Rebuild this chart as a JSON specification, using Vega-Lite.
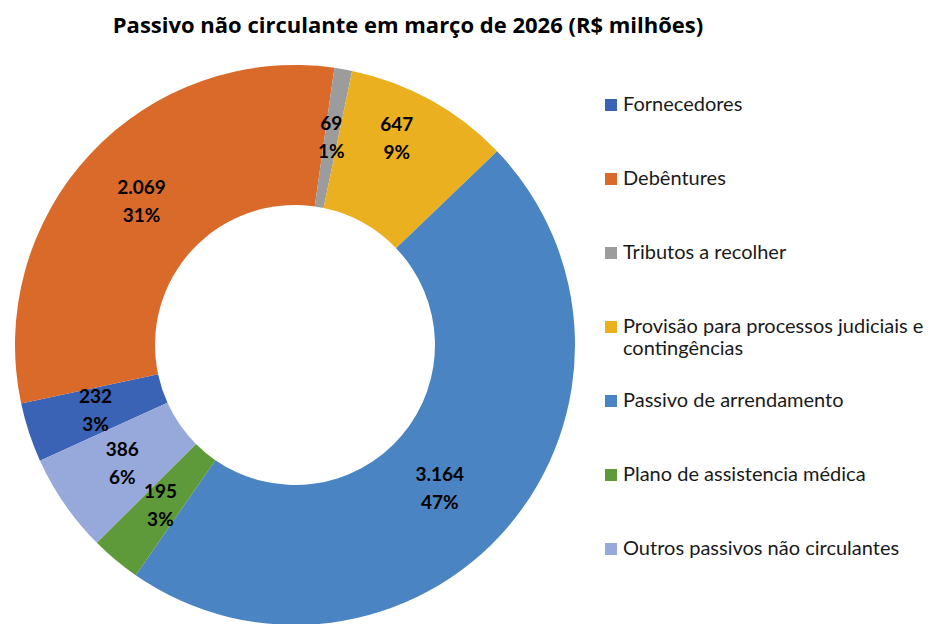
{
  "$schema": "https://vega.github.io/schema/vega-lite/v6.json",
  "width": 590,
  "height": 560,
  "autosize": {"type": "none"},
  "padding": {"left": 0, "top": 65, "right": 342, "bottom": 0},
  "background": "white",
  "title": {
    "text": "Passivo não circulante em março de 2026 (R$ milhões)",
    "font": "Open Sans",
    "fontSize": 22,
    "fontWeight": "bold",
    "color": "#000000",
    "anchor": "middle",
    "frame": "group",
    "dx": 113,
    "baseline": "alphabetic",
    "offset": 10
  },
  "data": {
    "values": [
      {"ordem": 1, "categoria": "Fornecedores", "valor": 232, "pct": 3},
      {"ordem": 2, "categoria": "Debêntures", "valor": 2069, "pct": 31},
      {"ordem": 3, "categoria": "Tributos a recolher", "valor": 69, "pct": 1},
      {"ordem": 4, "categoria": "Provisão para processos judiciais e contingências", "valor": 647, "pct": 9},
      {"ordem": 5, "categoria": "Passivo de arrendamento", "valor": 3164, "pct": 47},
      {"ordem": 6, "categoria": "Plano de assistencia médica", "valor": 195, "pct": 3},
      {"ordem": 7, "categoria": "Outros passivos não circulantes", "valor": 386, "pct": 6}
    ]
  },
  "transform": [
    {"stack": "valor", "groupby": [], "sort": [{"field": "ordem", "order": "ascending"}], "as": ["v0", "v1"]},
    {"joinaggregate": [{"op": "sum", "field": "valor", "as": "total"}]},
    {"calculate": "datum.v0 / datum.total", "as": "f0"},
    {"calculate": "datum.v1 / datum.total", "as": "f1"},
    {"calculate": "(datum.v0 + datum.v1) / 2 / datum.total", "as": "fmeio"},
    {"calculate": "replace(format(datum.valor, ','), ',', '.') + '\\n' + datum.pct + '%'", "as": "rotulo"}
  ],
  "layer": [
    {
      "mark": {"type": "arc", "outerRadius": 280, "innerRadius": 140},
      "encoding": {
        "theta": {"field": "f0", "type": "quantitative", "scale": {"domain": [0, 1], "range": [4.2865, 10.5697]}},
        "theta2": {"field": "f1"},
        "color": {
          "field": "categoria",
          "type": "nominal",
          "scale": {
            "domain": ["Fornecedores", "Debêntures", "Tributos a recolher", "Provisão para processos judiciais e contingências", "Passivo de arrendamento", "Plano de assistencia médica", "Outros passivos não circulantes"],
            "range": ["#3A62B5", "#D96A2A", "#9C9C9C", "#EBB020", "#4A84C2", "#5E9A3A", "#97A9DA"]
          },
          "legend": {
            "title": null,
            "orient": "none",
            "legendX": 601,
            "legendY": 30,
            "direction": "vertical",
            "symbolType": "square",
            "symbolSize": 144,
            "symbolStrokeWidth": 0,
            "labelFont": "Lato",
            "labelFontSize": 20,
            "labelColor": "#1a1a1a",
            "labelLimit": 400,
            "labelOffset": 2,
            "rowPadding": 32,
            "labelExpr": "datum.label == 'Provisão para processos judiciais e contingências' ? ['Provisão para processos judiciais e', 'contingências'] : [datum.label, ' ']"
          }
        }
      }
    },
    {
      "transform": [{"filter": "datum.ordem != 4 && datum.ordem != 5"}],
      "mark": {"type": "text", "radius": 210, "dy": -14, "font": "Lato", "fontSize": 19, "fontWeight": "bold", "lineBreak": "\n", "lineHeight": 28, "baseline": "middle", "align": "center", "color": "#000000"},
      "encoding": {"theta": {"field": "fmeio", "type": "quantitative"}, "text": {"field": "rotulo"}}
    },
    {
      "transform": [{"filter": "datum.ordem == 4"}],
      "mark": {"type": "text", "radius": 210, "dy": -36, "font": "Lato", "fontSize": 19, "fontWeight": "bold", "lineBreak": "\n", "lineHeight": 28, "baseline": "middle", "align": "center", "color": "#000000"},
      "encoding": {"theta": {"field": "fmeio", "type": "quantitative"}, "text": {"field": "rotulo"}}
    },
    {
      "transform": [{"filter": "datum.ordem == 5"}],
      "mark": {"type": "text", "radius": 210, "dx": -15, "dy": -6, "font": "Lato", "fontSize": 19, "fontWeight": "bold", "lineBreak": "\n", "lineHeight": 28, "baseline": "middle", "align": "center", "color": "#000000"},
      "encoding": {"theta": {"field": "fmeio", "type": "quantitative"}, "text": {"field": "rotulo"}}
    }
  ]
}
